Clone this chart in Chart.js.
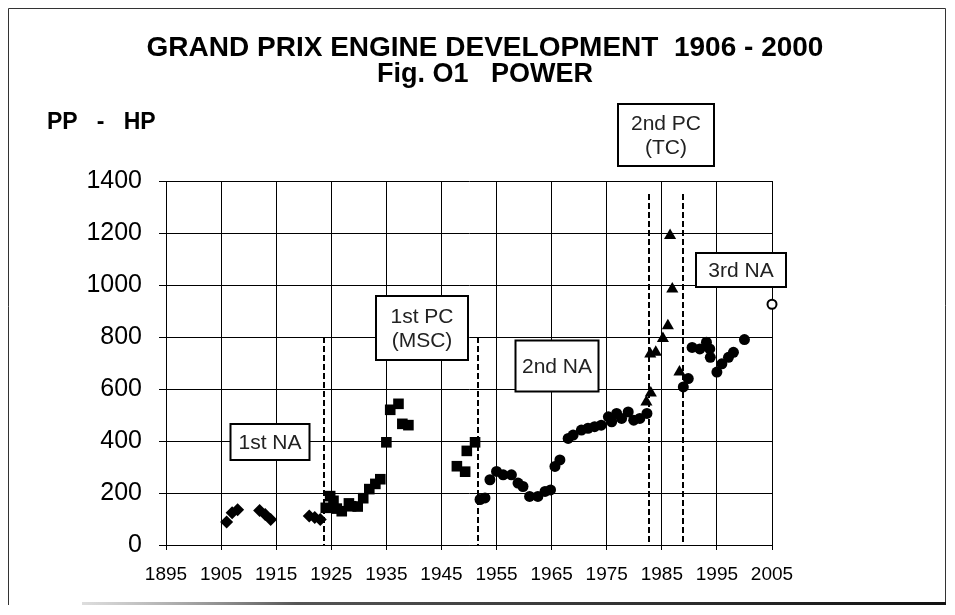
<!DOCTYPE html>
<html>
<head>
<meta charset="utf-8">
<script src="https://cdn.jsdelivr.net/npm/chart.js@4.4.1/dist/chart.umd.min.js"></script>
<style>
  html, body { margin: 0; padding: 0; background: #fff; }
  #wrap { position: relative; width: 955px; height: 615px; }
  canvas { display: block; }
</style>
</head>
<body>
<div id="wrap"><canvas id="c" width="955" height="615"></canvas></div>
<script>
// ---------------- data ----------------
const titleLines = ["GRAND PRIX ENGINE DEVELOPMENT  1906 - 2000", "Fig. O1   POWER"];
const yAxisTitle = "PP   -   HP";

const xTicks = [1895, 1905, 1915, 1925, 1935, 1945, 1955, 1965, 1975, 1985, 1995, 2005];
const yTicks = [0, 200, 400, 600, 800, 1000, 1200, 1400];

// 1st naturally aspirated era (diamonds)
const na1Years = [1906, 1907, 1908, 1912, 1913, 1914, 1921, 1922, 1923];
const na1Hp    = [88, 124, 136, 133, 117, 98, 112, 106, 98];

// 1st pressure-charged era (squares)
const pc1Years = [1924, 1924.8, 1925.4, 1926, 1926.9, 1928.2, 1928.6, 1929.8, 1930.8, 1931.9, 1933, 1933.9,
                  1935, 1935.7, 1937.2, 1937.9, 1939, 1947.8, 1949.3, 1949.6, 1951.1];
const pc1Hp    = [143, 188, 170, 140, 130, 160, 149, 148, 180, 215, 235, 253,
                  395, 520, 543, 466, 461, 303, 282, 362, 395];

// naturally aspirated 2nd & 3rd eras (circles)
const naYears = [1952, 1952.9, 1953.8, 1955, 1956.2, 1957.7, 1958.9, 1959.8, 1961, 1962.5, 1963.8, 1964.8,
                 1965.6, 1966.5, 1968, 1968.9, 1970.4, 1971.6, 1972.8, 1974, 1975.3, 1975.9, 1976.8, 1977.7,
                 1978.9, 1979.9, 1981, 1982.3,
                 1988.9, 1989.8, 1990.5, 1991.9, 1993.1, 1993.7, 1993.8, 1995, 1995.9, 1997.1, 1998, 2000];
const naHp    = [175, 181, 251, 283, 270, 270, 238, 225, 187, 187, 206, 212,
                 302, 327, 410, 423, 442, 449, 455, 461, 493, 474, 506, 487,
                 512, 480, 487, 506,
                 608, 640, 760, 754, 780, 754, 722, 665, 697, 722, 741, 790];

// 2nd pressure-charged era, turbo (triangles)
const tcYears = [1982.2, 1983, 1982.9, 1983.9, 1985.2, 1986.1, 1986.9, 1986.5, 1988.2];
const tcHp    = [550, 585, 735, 741, 794, 843, 985, 1190, 665];

// projection (open circle)
const projYears = [2005];
const projHp    = [926];

// era dividers (dashed lines): year and top value
const dividerYears = [1923.7, 1951.7, 1982.7, 1988.8];
const dividerTops  = [800, 800, 1350, 1350];

// era labels
const eraLabels = [["1st NA"], ["1st PC", "(MSC)"], ["2nd NA"], ["2nd PC", "(TC)"], ["3rd NA"]];
const eraLabelYears = [1913.9, 1941.4, 1966.0, 1985.7, 1999.4];
const eraLabelHp    = [396, 835, 690, 1577, 1059];

// ---------------- build ----------------
const toPts = (xs, ys) => xs.map((x, i) => ({x: x, y: ys[i]}));
const FONT = '"Liberation Sans", Arial, sans-serif';
const BOX_W = [79, 92, 83, 96, 90];
const BOX_H = [36, 64, 51, 62, 34];

const framePlugin = {
  id: 'frame',
  beforeDraw(chart) {
    const ctx = chart.ctx;
    ctx.save();
    ctx.fillStyle = '#fff';
    ctx.fillRect(0, 0, chart.width, chart.height);
    ctx.strokeStyle = '#333';
    ctx.lineWidth = 1;
    ctx.beginPath();
    ctx.moveTo(8.5, 605); ctx.lineTo(8.5, 8.5); ctx.lineTo(945.5, 8.5); ctx.lineTo(945.5, 602);
    ctx.stroke();
    const g = ctx.createLinearGradient(80, 0, 945, 0);
    g.addColorStop(0, 'rgba(200,200,200,0.6)');
    g.addColorStop(0.25, '#555');
    g.addColorStop(1, '#111');
    ctx.fillStyle = g;
    ctx.fillRect(82, 602, 864, 3);
    // titles
    ctx.fillStyle = '#000';
    ctx.textAlign = 'center';
    ctx.textBaseline = 'middle';
    ctx.font = 'bold 28px ' + FONT;
    ctx.fillText(titleLines[0], 485, 48);
    ctx.font = 'bold 27px ' + FONT;
    ctx.fillText(titleLines[1], 485, 75);
    ctx.textAlign = 'left';
    ctx.font = 'bold 23px ' + FONT;
    ctx.fillText(yAxisTitle, 47, 123);
    ctx.restore();
  }
};

const dividerPlugin = {
  id: 'dividers',
  beforeDatasetsDraw(chart) {
    const ctx = chart.ctx, xs = chart.scales.x, ys = chart.scales.y;
    ctx.save();
    ctx.strokeStyle = '#000';
    ctx.lineWidth = 2;
    ctx.setLineDash([6, 3]);
    dividerYears.forEach((yr, i) => {
      const px = Math.round(xs.getPixelForValue(yr));
      ctx.beginPath();
      ctx.moveTo(px, ys.getPixelForValue(dividerTops[i]));
      ctx.lineTo(px, ys.getPixelForValue(0));
      ctx.stroke();
    });
    ctx.restore();
  }
};

const labelPlugin = {
  id: 'eraLabels',
  afterDraw(chart) {
    const ctx = chart.ctx, xs = chart.scales.x, ys = chart.scales.y;
    ctx.save();
    ctx.font = '21px ' + FONT;
    ctx.textAlign = 'center';
    ctx.textBaseline = 'middle';
    eraLabels.forEach((lines, i) => {
      const cx = Math.round(xs.getPixelForValue(eraLabelYears[i]));
      const cy = Math.round(ys.getPixelForValue(eraLabelHp[i]));
      const w = BOX_W[i], h = BOX_H[i];
      const lh = 24;
      ctx.fillStyle = '#fff';
      ctx.fillRect(cx - w / 2, cy - h / 2, w, h);
      ctx.strokeStyle = '#000';
      ctx.lineWidth = 2;
      ctx.strokeRect(cx - w / 2, cy - h / 2, w, h);
      ctx.fillStyle = '#222';
      lines.forEach((l, j) => {
        ctx.fillText(l, cx, cy + 1 + (j - (lines.length - 1) / 2) * lh);
      });
    });
    ctx.restore();
  }
};

const black = '#000';
new Chart(document.getElementById('c'), {
  type: 'scatter',
  data: {
    datasets: [
      {label: '1st NA', data: toPts(na1Years, na1Hp), pointStyle: 'rectRot', pointRadius: 6.5,
       backgroundColor: black, borderColor: black, borderWidth: 0},
      {label: '1st PC', data: toPts(pc1Years, pc1Hp), pointStyle: 'rect', pointRadius: 7.5,
       backgroundColor: black, borderColor: black, borderWidth: 0},
      {label: 'NA', data: toPts(naYears, naHp), pointStyle: 'circle', pointRadius: 5.5,
       backgroundColor: black, borderColor: black, borderWidth: 0},
      {label: 'TC', data: toPts(tcYears, tcHp), pointStyle: 'triangle', pointRadius: 7,
       backgroundColor: black, borderColor: black, borderWidth: 0},
      {label: 'Projection', data: toPts(projYears, projHp), pointStyle: 'circle', pointRadius: 4.5,
       backgroundColor: '#fff', borderColor: black, borderWidth: 2}
    ]
  },
  options: {
    responsive: false,
    animation: false,
    events: [],
    clip: false,
    layout: {padding: {left: 0, top: 181, right: 183, bottom: 0}},
    plugins: {legend: {display: false}, title: {display: false}, tooltip: {enabled: false}},
    scales: {
      x: {
        type: 'linear', min: 1895, max: 2005,
        afterBuildTicks: s => { s.ticks = xTicks.map(v => ({value: v})); },
        afterFit: s => { s.height = 70; },
        grid: {color: black, lineWidth: 1, tickLength: 5, drawTicks: true},
        border: {color: black, width: 1},
        ticks: {color: '#000', font: {family: FONT, size: 19}, padding: 13, maxRotation: 0, autoSkip: false,
                callback: v => String(v)}
      },
      y: {
        type: 'linear', min: 0, max: 1400,
        afterBuildTicks: s => { s.ticks = yTicks.map(v => ({value: v})); },
        afterFit: s => { s.width = 166; },
        grid: {color: black, lineWidth: 1, tickLength: 7, drawTicks: true},
        border: {color: black, width: 1},
        ticks: {color: '#000', font: {family: FONT, size: 25}, padding: 17, callback: v => String(v)}
      }
    }
  },
  plugins: [framePlugin, dividerPlugin, labelPlugin]
});
</script>
</body>
</html>
